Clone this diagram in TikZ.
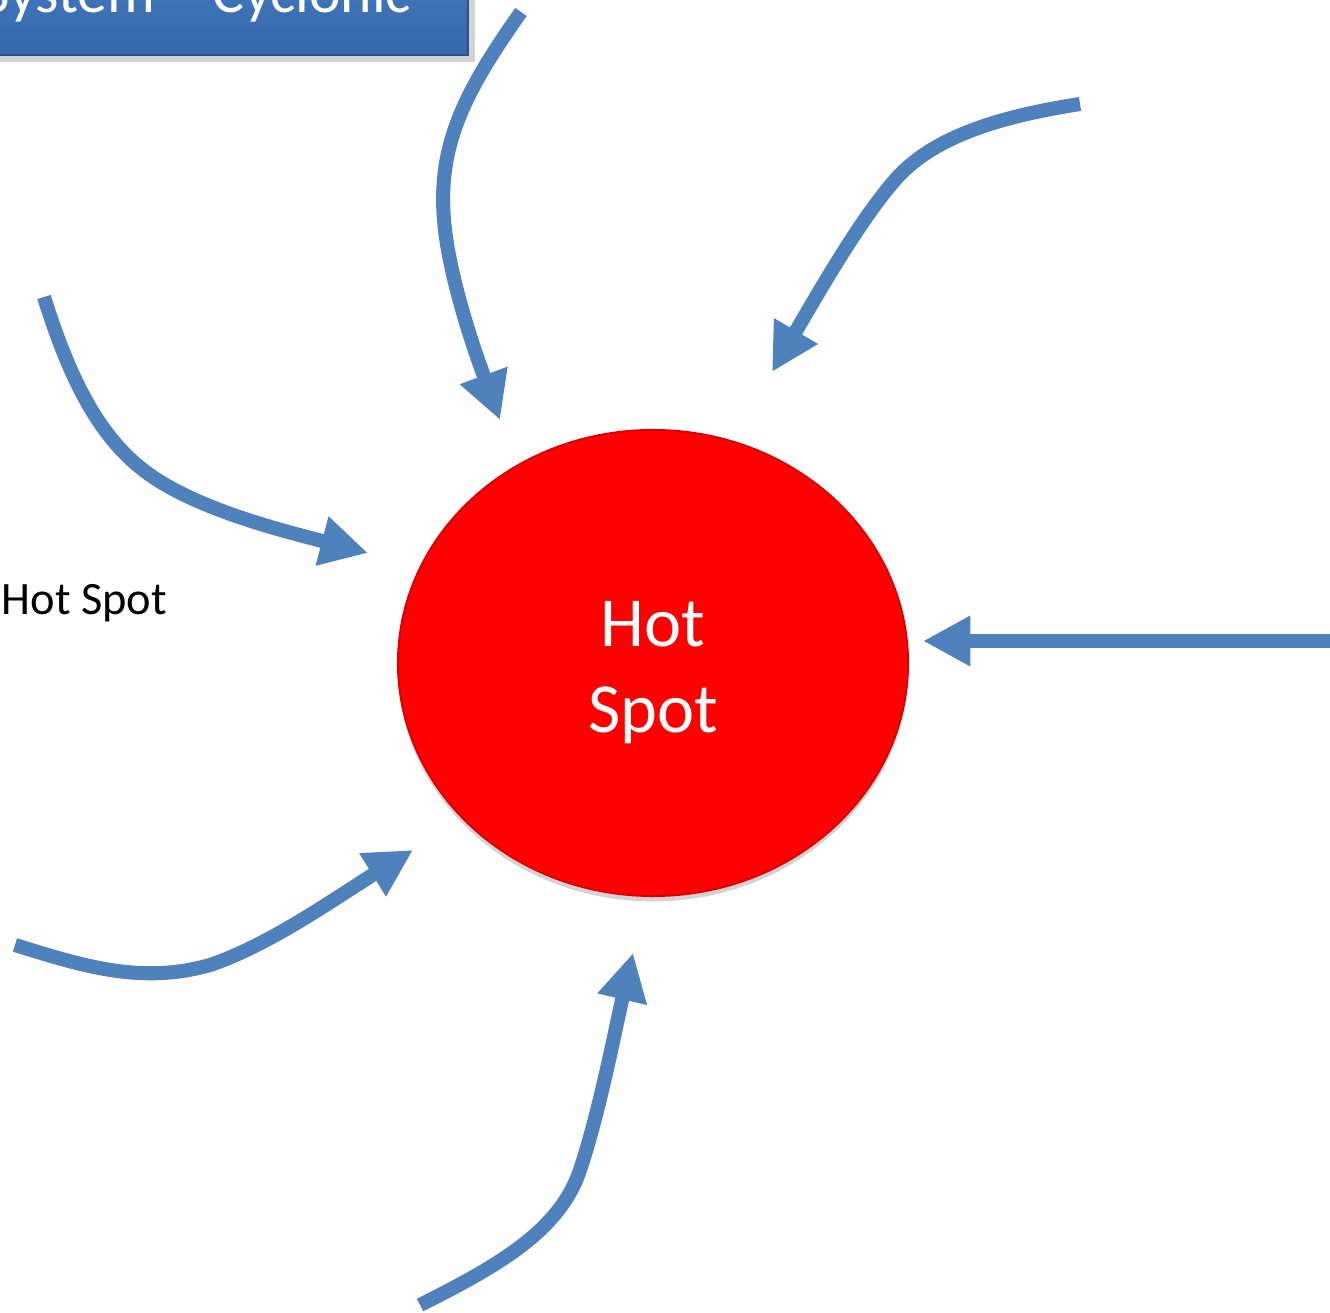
\documentclass[tikz,border=0pt]{standalone}
\usepackage{fontspec}
\setmainfont{Carlito}
\usetikzlibrary{arrows.meta,shapes.geometric,shadows}
\definecolor{flowblue}{HTML}{4F81BD}
\definecolor{titletop}{HTML}{4A80C6}
\definecolor{titlebot}{HTML}{3567AB}
\definecolor{hotred}{HTML}{FE0000}
\tikzset{
  flow/.style={draw=flowblue, line width=4pt, -{Triangle[length=13.5pt,width=13.5pt]}},
}
\begin{document}
\begin{tikzpicture}[x=0.01cm, y=-0.01cm]
    \useasboundingbox (0,0) rectangle (1330,1313);
    \clip (0,0) rectangle (1330,1313);
    \shade[top color=titletop, bottom color=titlebot, draw=titlebot!80!black, line width=.4pt,
      drop shadow={shadow xshift=2pt, shadow yshift=-2pt, opacity=.35}] (-20,-60) rectangle (468,55);
    \node[anchor=base east, inner sep=0pt, text=white, font=\fontsize{17}{20}\selectfont] (title) at (412,13) {System – Cyclonic};
    \node[ellipse, fill=hotred, draw=hotred!85!black, line width=.5pt, minimum width=5.1cm, minimum height=4.66cm,
      inner sep=0pt, drop shadow={shadow xshift=0pt, shadow yshift=-1.5pt, opacity=.35}] (hotspot) at (653,663) {};
    \node[text=white, align=center, font=\fontsize{20}{24.5}\selectfont] (hottext) at (653,673) {Hot\\Spot};
    \node[anchor=base west, inner sep=0pt, font=\fontsize{13.2}{16}\selectfont] (label) at (1,615) {Hot Spot};
    \coordinate (n0) at (521,12);     \coordinate (n1) at (500,420);
    \coordinate (ne0) at (1080,104);  \coordinate (ne1) at (772,372);
    \coordinate (w0) at (44,297);     \coordinate (w1) at (368,553);
    \coordinate (e0) at (1330,641);   \coordinate (e1) at (923,641);
    \coordinate (sw0) at (15,945);    \coordinate (sw1) at (413,850);
    \coordinate (s0) at (420,1305);   \coordinate (s1) at (633,953);
    \draw[flow] (n0) .. controls (455,105) and (432,160) .. (448,250) .. controls (458,305) and (478,360) .. (n1);
    \draw[flow] (ne0) .. controls (990,118) and (930,140) .. (895,180) .. controls (860,220) and (820,290) .. (ne1);
    \draw[flow] (w0) .. controls (70,380) and (100,440) .. (150,475) .. controls (200,510) and (280,530) .. (w1);
    \draw[flow] (e0) -- (e1);
    \draw[flow] (sw0) .. controls (80,965) and (140,985) .. (210,965) .. controls (270,945) and (340,895) .. (sw1);
    \draw[flow] (s0) .. controls (500,1265) and (560,1230) .. (580,1170) .. controls (600,1110) and (615,1030) .. (s1);
\end{tikzpicture}
\end{document}
